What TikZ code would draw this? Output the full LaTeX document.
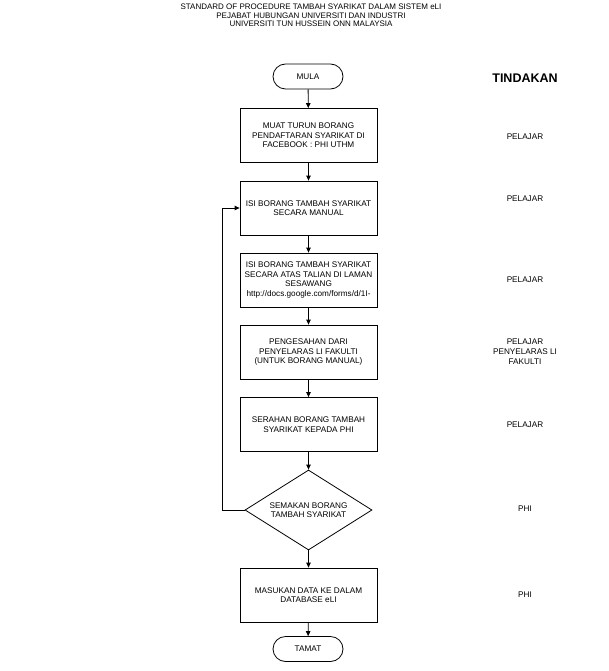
\documentclass[tikz,border=0pt]{standalone}
\usepackage{fontspec}
\setmainfont{Liberation Sans}
\usetikzlibrary{arrows.meta, shapes.misc, shapes.geometric}

\tikzset{
	box/.style={draw, line width=0.8pt, minimum width=137pt, minimum height=54pt, inner sep=1pt, align=center, font=\fontsize{8.2}{9.4}\selectfont},
	term/.style={draw, rounded rectangle, line width=0.8pt, minimum width=72pt, minimum height=25pt, inner sep=1pt, font=\fontsize{8.2}{9.4}\selectfont},
	check/.style={draw, diamond, aspect=1.6, line width=0.8pt, minimum width=127pt, minimum height=80pt, inner sep=0pt, align=center, font=\fontsize{8.2}{9.4}\selectfont},
	who/.style={align=center, font=\fontsize{8.2}{10}\selectfont},
	heading/.style={align=center, font=\fontsize{8}{8.6}\selectfont},
	flow/.style={line width=0.8pt, -{Triangle[length=5pt, width=4.5pt]}}
}

\begin{document}
\begin{tikzpicture}[x=1pt, y=-1pt]
	\useasboundingbox (0, 0) rectangle (608, 671);
	
	% Title
	\node[heading] (title) at (311, 15.5) {STANDARD OF PROCEDURE TAMBAH SYARIKAT DALAM SISTEM eLI\\PEJABAT HUBUNGAN UNIVERSITI DAN INDUSTRI\\UNIVERSITI TUN HUSSEIN ONN MALAYSIA};
	
	% Flow steps
	\node[term] (mula) at (308, 76.5) {MULA};
	\node[box] (muat) at (308.5, 135.5) {MUAT TURUN BORANG\\PENDAFTARAN SYARIKAT DI\\FACEBOOK : PHI UTHM};
	\node[box] (manual) at (308.5, 208) {ISI BORANG TAMBAH SYARIKAT\\SECARA MANUAL};
	\node[box] (talian) at (308.5, 280) {ISI BORANG TAMBAH SYARIKAT\\SECARA ATAS TALIAN DI LAMAN\\SESAWANG\\http://docs.google.com/forms/d/1I-};
	\node[box] (sah) at (308.5, 352) {PENGESAHAN DARI\\PENYELARAS LI FAKULTI\\(UNTUK BORANG MANUAL)};
	\node[box] (serah) at (308.5, 424.5) {SERAHAN BORANG TAMBAH\\SYARIKAT KEPADA PHI};
	\node[check] (semak) at (308.5, 510) {SEMAKAN BORANG\\TAMBAH SYARIKAT};
	\node[box] (data) at (308.5, 595) {MASUKAN DATA KE DALAM\\DATABASE eLI};
	\node[term] (tamat) at (308, 649) {TAMAT};
	
	% Connectors
	\draw[flow] (mula) -- (muat);
	\draw[flow] (muat) -- (manual);
	\draw[flow] (manual) -- (talian);
	\draw[flow] (talian) -- (sah);
	\draw[flow] (sah) -- (serah);
	\draw[flow] (serah) -- (semak);
	\draw[flow] (semak) -- (data);
	\draw[flow] (data) -- (tamat);
	
	% Loop back to manual form
	\coordinate (loop) at (222.5, 510);
	\draw[flow] (semak.west) -- (loop) |- (manual.west);
	
	% Action column
	\node[font=\bfseries\fontsize{12.5}{14}\selectfont] (tindakan) at (525, 78) {TINDAKAN};
	\node[who] (who1) at (525, 136.5) {PELAJAR};
	\node[who] (who2) at (525, 199) {PELAJAR};
	\node[who] (who3) at (525, 280) {PELAJAR};
	\node[who] (who4) at (525, 352) {PELAJAR\\PENYELARAS LI\\FAKULTI};
	\node[who] (who5) at (525, 424.5) {PELAJAR};
	\node[who] (who6) at (525, 509) {PHI};
	\node[who] (who7) at (525, 595) {PHI};
\end{tikzpicture}
\end{document}
